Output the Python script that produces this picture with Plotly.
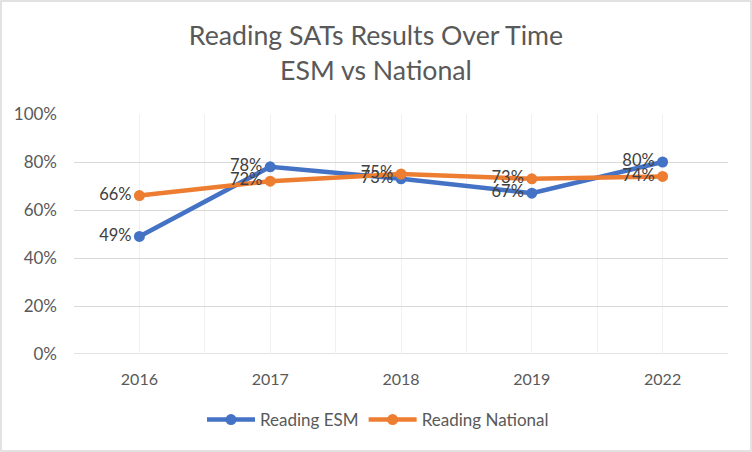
import plotly.graph_objects as go

years = ["2016", "2017", "2018", "2019", "2022"]
esm = [0.49, 0.78, 0.73, 0.67, 0.80]
national = [0.66, 0.72, 0.75, 0.73, 0.74]
y_ticks = [0, 0.2, 0.4, 0.6, 0.8, 1.0]
y_ticktext = ["0%", "20%", "40%", "60%", "80%", "100%"]

FONT = "Lato, 'Open Sans', sans-serif"
xpos = list(range(len(years)))

fig = go.Figure()
fig.add_trace(go.Scatter(
    x=xpos, y=esm, name="Reading ESM", mode="lines+markers+text",
    line=dict(color="#4472C4", width=4.5),
    marker=dict(color="#4472C4", size=11),
    text=[f"{round(v*100)}%" for v in esm], textposition="middle left",
    textfont=dict(family=FONT, size=16.5, color="#404040"),
))
fig.add_trace(go.Scatter(
    x=xpos, y=national, name="Reading National", mode="lines+markers+text",
    line=dict(color="#ED7D31", width=4.5),
    marker=dict(color="#ED7D31", size=11),
    text=[f"{round(v*100)}%" for v in national], textposition="middle left",
    textfont=dict(family=FONT, size=16.5, color="#404040"),
))

W, H = 752, 452
ml, mr, mt, mb = 74, 24, 114, 98
pw, ph = W - ml - mr, H - mt - mb

fig.update_layout(
    width=W, height=H,
    margin=dict(l=ml, r=mr, t=mt, b=mb, autoexpand=False),
    paper_bgcolor="white", plot_bgcolor="white",
    font=dict(family=FONT, color="#595959"),
    title=dict(text="Reading SATs Results Over Time<br>ESM vs National",
               x=(376 - ml) / pw, xref="paper", xanchor="center",
               y=1 - 45 / H, yref="container", yanchor="top",
               font=dict(family=FONT, size=26.7, color="#595959")),
    showlegend=True,
    legend=dict(orientation="h", x=(378 - ml) / pw, xref="paper", xanchor="center",
                y=-(420 - (mt + ph)) / ph, yanchor="middle", itemwidth=48,
                font=dict(family=FONT, size=17, color="#595959")),
    xaxis=dict(range=[-0.5, len(years) - 0.5], tickmode="array", tickvals=xpos,
               ticktext=years, showgrid=True, gridcolor="#F0F0F0", gridwidth=1,
               zeroline=False, showline=False, ticks="", ticklabelstandoff=14,
               tickfont=dict(family=FONT, size=16, color="#595959"),
               minor=dict(tick0=-0.5, dtick=1, showgrid=True, gridcolor="#F0F0F0", gridwidth=1),
               fixedrange=True),
    yaxis=dict(range=[0, 1.0], tickmode="array", tickvals=y_ticks, ticktext=y_ticktext,
               showgrid=True, gridcolor="#D9D9D9", gridwidth=1.3,
               zeroline=False, showline=False, ticks="", ticklabelstandoff=16,
               tickfont=dict(family=FONT, size=17, color="#595959")),
)
# x-axis baseline
fig.add_shape(type="line", xref="paper", yref="y", x0=0, x1=1, y0=0, y1=0,
              line=dict(color="#D9D9D9", width=1.5), layer="below")
# outer chart border
fig.add_shape(type="rect", xref="paper", yref="paper",
              x0=-(ml - 1) / pw, x1=1 + (mr - 1) / pw,
              y0=-(mb - 1) / ph, y1=1 + (mt - 1) / ph,
              line=dict(color="#D9D9D9", width=1.5), fillcolor="rgba(0,0,0,0)")
fig.write_html("out.html", config={"displayModeBar": False},
               post_script="document.body.style.margin='0';document.body.style.overflow='hidden';")
